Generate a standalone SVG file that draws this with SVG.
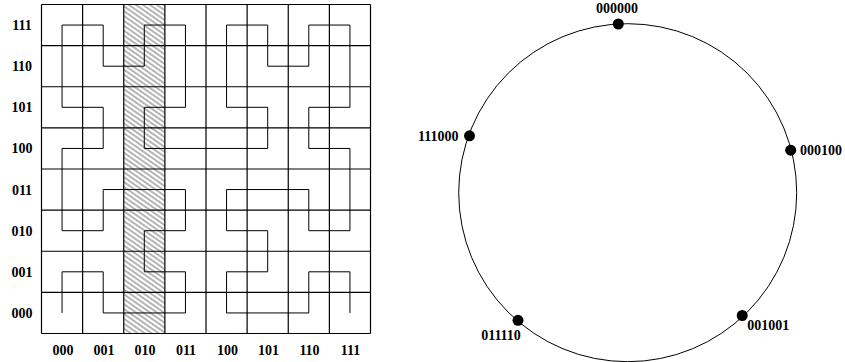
<svg xmlns="http://www.w3.org/2000/svg" width="845" height="362" viewBox="0 0 845 362">
<style>
.lbl{font-family:"Liberation Serif","Times New Roman",serif;font-weight:bold;font-size:14px;fill:#000}
.clbl{font-family:"Liberation Serif","Times New Roman",serif;font-weight:bold;font-size:14px;fill:#000}
.grid{stroke:#000;stroke-width:1.2;fill:none}
.curve{stroke:#000;stroke-width:1;fill:none}
.dot{fill:#000}
</style>
<defs>
<pattern id="hatch" patternUnits="userSpaceOnUse" width="8" height="4" patternTransform="rotate(35)">
<line x1="0" y1="2" x2="8" y2="2" stroke="#444" stroke-width="0.8"/>
</pattern>
</defs>
<g id="grid">
<rect x="123.75" y="4.5" width="41.125" height="329" fill="url(#hatch)"/>
<path class="grid" d="M41.5 4.5V333.5M82.63 4.5V333.5M123.75 4.5V333.5M164.88 4.5V333.5M206 4.5V333.5M247.13 4.5V333.5M288.25 4.5V333.5M329.38 4.5V333.5M370.5 4.5V333.5M41.5 4.5H370.5M41.5 45.63H370.5M41.5 86.75H370.5M41.5 127.88H370.5M41.5 169H370.5M41.5 210.13H370.5M41.5 251.25H370.5M41.5 292.38H370.5M41.5 333.5H370.5"/>
<path id="hilbert" class="curve" d="M62.06 312.94V271.81H103.19V312.94H185.44V271.81H144.31V230.69H185.44V189.56H103.19V230.69H62.06V148.44H103.19V107.31H62.06V25.06H103.19V66.19H144.31V25.06H185.44V107.31H144.31V148.44H267.69V107.31H226.56V25.06H267.69V66.19H308.81V25.06H349.94V107.31H308.81V148.44H349.94V230.69H308.81V189.56H226.56V230.69H267.69V271.81H226.56V312.94H308.81V271.81H349.94V312.94"/>
</g>
<g id="row-labels" class="lbl" text-anchor="middle">
<text x="22" y="30">111</text>
<text x="22" y="71">110</text>
<text x="22" y="112">101</text>
<text x="22" y="153">100</text>
<text x="22" y="194.5">011</text>
<text x="22" y="235.5">010</text>
<text x="22" y="276.5">001</text>
<text x="22" y="317.5">000</text>
</g>
<g id="col-labels" class="lbl" text-anchor="middle">
<text x="63" y="355">000</text>
<text x="104" y="355">001</text>
<text x="145" y="355">010</text>
<text x="186" y="355">011</text>
<text x="227.5" y="355">100</text>
<text x="268.5" y="355">101</text>
<text x="309.5" y="355">110</text>
<text x="350.5" y="355">111</text>
</g>
<g id="ring">
<circle cx="627.7" cy="192.7" r="169" fill="none" stroke="#000" stroke-width="1"/>
</g>
<g id="n000000"><circle class="dot" cx="618.3" cy="24" r="5.5"/><text class="clbl" x="617" y="13" text-anchor="middle">000000</text></g>
<g id="n111000"><circle class="dot" cx="469.5" cy="135.8" r="5.5"/><text class="clbl" x="458.5" y="140.5" text-anchor="end">111000</text></g>
<g id="n000100"><circle class="dot" cx="790.7" cy="150.2" r="5.5"/><text class="clbl" x="800" y="155">000100</text></g>
<g id="n011110"><circle class="dot" cx="518" cy="320.3" r="5.5"/><text class="clbl" x="501" y="340" text-anchor="middle">011110</text></g>
<g id="n001001"><circle class="dot" cx="742.2" cy="315.5" r="5.5"/><text class="clbl" x="747.3" y="330">001001</text></g>
</svg>
